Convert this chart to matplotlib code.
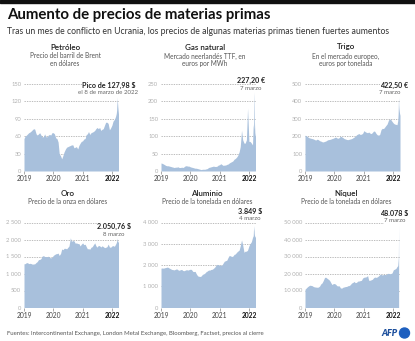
import numpy as np
import pandas as pd
import matplotlib
matplotlib.use("Agg")
import matplotlib.pyplot as plt
from matplotlib.patches import Ellipse

plt.rcParams['font.family'] = ['Lato', 'DejaVu Sans']

# fechas: dia 1 y 15 de cada mes hasta feb 2022, luego dias sueltos hasta el 24 de marzo
fechas_base = pd.date_range("2019-01-01", "2022-02-15", freq="SMS")
fechas_marzo = pd.to_datetime(["2022-02-24", "2022-03-01", "2022-03-04", "2022-03-07",
                               "2022-03-08", "2022-03-11", "2022-03-16", "2022-03-22", "2022-03-24"])
fechas = fechas_base.append(fechas_marzo)

petroleo = [56, 60, 62, 64, 66, 67, 69, 71, 73, 72, 64, 62, 64, 66, 62, 59, 59, 64, 59, 59, 62, 63, 62, 66,
            66, 64, 57, 56, 50, 30, 26, 21, 27, 33, 38, 41, 42, 43, 44, 45, 45, 40, 41, 42, 38, 44, 48, 51,
            52, 55, 56, 63, 64, 68, 63, 66, 67, 68, 70, 73, 75, 73, 75, 70, 72, 73, 79, 84, 84, 82, 71, 74,
            79, 86, 89, 94,
            99, 105, 118, 123, 127.98, 113, 98, 115, 119]

gas = [23, 22, 20, 18, 16, 15, 15, 14, 13, 12, 11, 10, 11, 11, 12, 10, 10, 11, 10, 12, 15, 15, 14, 14,
       12, 11, 10, 9, 8, 8, 7, 6, 5, 4, 5, 5, 5, 6, 7, 10, 11, 12, 13, 14, 13, 13, 14, 17,
       18, 21, 18, 16, 17, 17, 19, 20, 23, 25, 27, 29, 34, 36, 40, 45, 55, 70, 117, 90, 80, 80, 90, 180,
       85, 85, 80, 75,
       134, 120, 192, 227.2, 215, 140, 110, 100, 98]

trigo = [205, 204, 198, 192, 190, 188, 186, 184, 180, 178, 183, 180, 174, 172, 168, 167, 170, 172, 177, 180, 181, 183, 186, 188,
         192, 195, 190, 188, 192, 200, 196, 192, 186, 184, 181, 180, 182, 184, 186, 190, 195, 200, 208, 212, 215, 210, 212, 216,
         232, 226, 222, 220, 224, 218, 215, 221, 230, 228, 215, 208, 206, 210, 238, 245, 244, 252, 262, 270, 292, 300, 295, 285,
         275, 270, 268, 266,
         290, 330, 390, 422.5, 380, 360, 340, 320, 330]

oro = [1285, 1290, 1320, 1315, 1290, 1300, 1290, 1275, 1280, 1285, 1325, 1350, 1410, 1410, 1440, 1510, 1525, 1500, 1500, 1490, 1510, 1470, 1460, 1475,
       1530, 1555, 1580, 1585, 1600, 1530, 1590, 1720, 1700, 1740, 1740, 1725, 1770, 1810, 2050, 1945, 1970, 1960, 1890, 1900, 1880, 1880, 1810, 1860,
       1900, 1850, 1860, 1790, 1725, 1730, 1715, 1770, 1790, 1845, 1900, 1815, 1775, 1825, 1815, 1780, 1815, 1790, 1760, 1770, 1790, 1865, 1780, 1770,
       1810, 1820, 1800, 1860,
       1905, 1945, 1970, 2000, 2050.76, 1990, 1930, 1920, 1960]

aluminio = [1850, 1860, 1850, 1870, 1880, 1900, 1890, 1850, 1820, 1790, 1780, 1770, 1800, 1820, 1770, 1750, 1780, 1790, 1740, 1730, 1760, 1780, 1760, 1780,
            1800, 1790, 1700, 1690, 1700, 1590, 1490, 1470, 1460, 1480, 1560, 1580, 1620, 1680, 1720, 1760, 1760, 1790, 1800, 1840, 1900, 1980, 2030, 2010,
            2000, 1980, 2010, 2100, 2180, 2200, 2230, 2350, 2450, 2430, 2400, 2420, 2500, 2520, 2600, 2650, 2700, 2900, 3180, 2950, 2600, 2650, 2650, 2700,
            2900, 3000, 3100, 3300,
            3380, 3849, 3700, 3600, 3500, 3400, 3300, 3350, 3400]

# el niquel se corta el 7 de marzo (suspension en la LME)
niquel = [10700, 11400, 12200, 12700, 13100, 13000, 12800, 12300, 12100, 12000, 11900, 12000, 12600, 13800, 14500, 15800, 17700, 17800, 17200, 16700, 16000, 14800, 13500, 14000,
          14100, 13700, 12800, 12700, 12700, 11500, 11400, 11900, 12100, 12300, 12400, 12800, 12900, 13400, 14400, 14700, 15300, 14600, 14800, 15500, 15600, 15800, 16000, 17300,
          17800, 17900, 18100, 18800, 16000, 16000, 16300, 16600, 17500, 17900, 17700, 18000, 18600, 19300, 19600, 19100, 19400, 19500, 19300, 20000, 20100, 19900, 20000, 20300,
          22200, 22500, 23000, 24100,
          24600, 27500, 29500, 48078]

titulos = ["Petróleo", "Gas natural", "Trigo", "Oro", "Aluminio", "Níquel"]
subtitulos = ["Precio del barril de Brent\nen dólares",
              "Mercado neerlandés TTF, en\neuros por MWh",
              "En el mercado europeo,\neuros por tonelada",
              "Precio de la onza en dólares",
              "Precio de la tonelada en dólares",
              "Precio de la tonelada en dólares"]
series = [petroleo, gas, trigo, oro, aluminio, niquel]
yticks = [[0, 30, 60, 90, 120, 150],
          [0, 50, 100, 150, 200, 250],
          [0, 100, 200, 300, 400, 500],
          [0, 500, 1000, 1500, 2000, 2500],
          [0, 1000, 2000, 3000, 4000],
          [0, 10000, 20000, 30000, 40000, 50000]]
ytick_labels = [["0", "30", "60", "90", "120", "150"],
                ["0", "50", "100", "150", "200", "250"],
                ["0", "100", "200", "300", "400", "500"],
                ["0", "500", "1 000", "1 500", "2 000", "2 500"],
                ["0", "1 000", "2 000", "3 000", "4 000"],
                ["0", "10 000", "20 000", "30 000", "40 000", "50 000"]]
anot_valor = ["Pico de 127,98 $", "227,20 €", "422,50 €", "2.050,76 $", "3.849 $", "48.078 $"]
anot_fecha = ["el 8 de marzo de 2022", "7 marzo", "7 marzo", "8 marzo", "4 marzo", "7 marzo"]
años = ["2019", "2020", "2021", "2022"]

W, H = 415, 341
fig = plt.figure(figsize=(W / 100, H / 100), dpi=100)

def fx(x):
    return x / W

def fy(y):
    return 1 - y / H

relleno = "#a8c0dc"

# posiciones en pixeles (izq, arriba, der, abajo) de cada grafico
cajas = [(24, 84, 118.5, 171), (161, 84, 255.5, 171), (305, 84, 400, 171),
         (24, 222.5, 118.5, 307.5), (161, 222.5, 255.5, 307.5), (305, 222.5, 400, 307.5)]
centros_titulo = [65, 205, 346, 68, 207, 346]
pos_valor = [(109, 85), (251, 80), (394, 85), (114, 226), (250, 211), (394, 213)]
pos_fecha = [(108, 93), (251, 88), (390, 93), (114, 234), (250, 219), (395, 221)]

for i in range(6):
    l, t, r, b = cajas[i]
    ax = fig.add_axes([fx(l), fy(b), fx(r - l), (b - t) / H])
    vals = series[i]
    ax.fill_between(fechas[:len(vals)], vals, 0, color=relleno, lw=0, zorder=2)
    ax.set_xlim(pd.Timestamp("2019-01-01"), pd.Timestamp("2022-03-24"))
    ax.set_ylim(0, yticks[i][-1])
    ax.set_yticks(yticks[i])
    ax.set_yticklabels(ytick_labels[i], fontsize=4.2, color="#b0b0b0")
    for v in yticks[i][1:]:
        ax.axhline(v, color="#ababab", lw=0.55, ls=(0, (1.8, 1.4)), zorder=1)
    ax.axhline(0, color="#9a9a9a", lw=0.6, zorder=3)
    ax.set_xticks([pd.Timestamp(a + "-01-01") for a in años])
    ax.set_xticklabels(años, fontsize=4.8, color="#444444")
    ax.get_xticklabels()[-1].set_fontweight("bold")
    ax.get_xticklabels()[-1].set_color("#111111")
    ax.tick_params(axis="x", length=2, width=0.5, color="#888888", pad=1)
    ax.tick_params(axis="y", length=0, pad=2)
    for s in ax.spines.values():
        s.set_visible(False)
    ax.patch.set_alpha(0)

    # titulo y subtitulo de cada panel
    ty = 47 if i < 3 else 193
    fig.text(fx(centros_titulo[i]), fy(ty), titulos[i], ha="center", va="center",
             fontsize=5.8, fontweight="semibold", color="#222222")
    fig.text(fx(centros_titulo[i]), fy(ty + 5.5), subtitulos[i], ha="center", va="top",
             fontsize=4.7, color="#555555", linespacing=1.15)

    # anotacion del maximo
    fig.text(fx(pos_valor[i][0]), fy(pos_valor[i][1]), anot_valor[i], ha="center", va="center",
             fontsize=5.1, fontweight="bold", color="#222222",
             bbox=dict(facecolor="white", edgecolor="none", pad=0.3))
    fig.text(fx(pos_fecha[i][0]), fy(pos_fecha[i][1]), anot_fecha[i], ha="center", va="center",
             fontsize=4.4, color="#666666",
             bbox=dict(facecolor="white", edgecolor="none", pad=0.3))

# barra negra de arriba
fig.add_artist(plt.Rectangle((0, fy(2.7)), 1, 2.7 / H, color="#111111", transform=fig.transFigure))

fig.text(fx(7), fy(15.5), "Aumento de precios de materias primas", ha="left", va="center",
         fontsize=10.8, fontweight="bold", color="#111111")
fig.text(fx(7), fy(31.5), "Tras un mes de conflicto en Ucrania, los precios de algunas materias primas tienen fuertes aumentos",
         ha="left", va="center", fontsize=6.2, color="#333333")

fig.text(fx(7), fy(333), "Fuentes: Intercontinental Exchange, London Metal Exchange, Bloomberg, Factset, precios al cierre",
         ha="left", va="center", fontsize=4.3, color="#555555")

# logo AFP
fig.text(fx(398), fy(333), "AFP", ha="right", va="center", fontsize=6.5, fontweight="heavy",
         fontstyle="italic", color="#1d4f9c")
fig.add_artist(Ellipse((fx(404.5), fy(333)), 10 / W, 10 / H, color="#1d5fbf", transform=fig.transFigure))

fig.savefig("out.png", dpi=100)
